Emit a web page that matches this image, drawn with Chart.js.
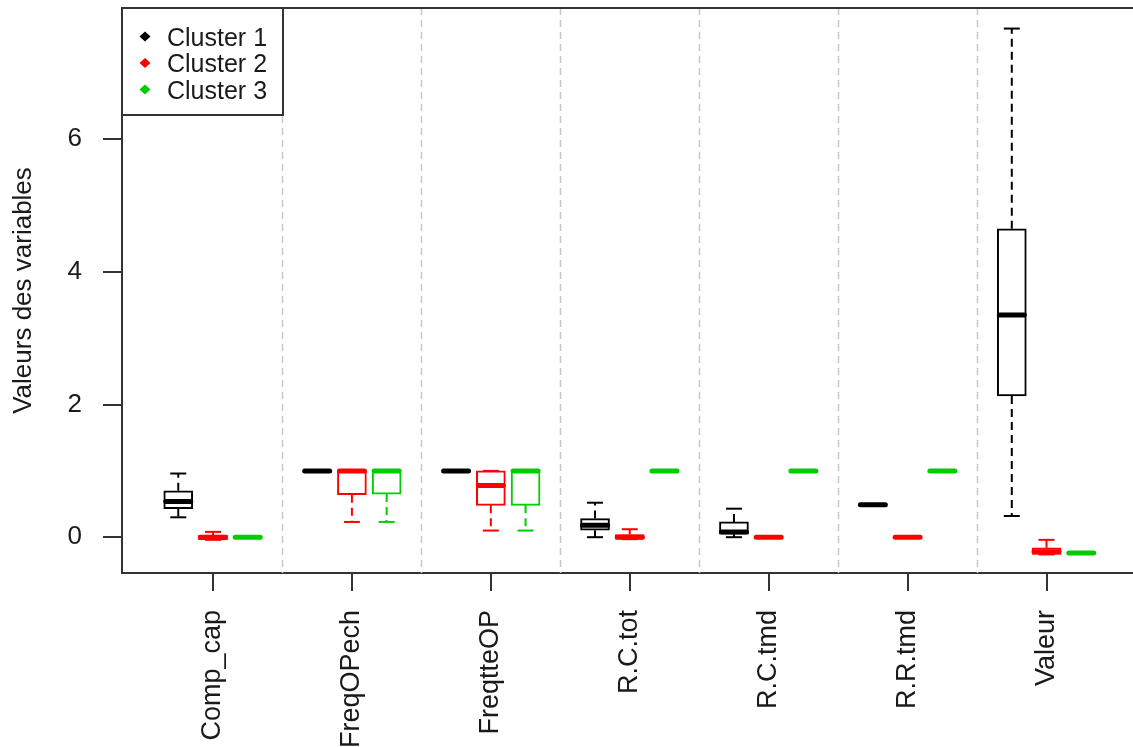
<!DOCTYPE html>
<html><head><meta charset="utf-8">
<script src="https://cdn.jsdelivr.net/npm/chart.js@4.4.1/dist/chart.umd.min.js"></script>
<style>html,body{margin:0;padding:0;background:#fff;}#wrap{width:1133px;height:747px;}</style>
</head><body><div id="wrap"><canvas id="c" width="1133" height="747"></canvas></div>
<script>
const categories = ['Comp_cap','FreqOPech','FreqtteOP','R.C.tot','R.C.tmd','R.R.tmd','Valeur'];
const clusterNames = ['Cluster 1','Cluster 2','Cluster 3'];
const clusterColors = ['#000000','#ff0000','#00cd00'];
// [lower whisker, Q1, median, Q3, upper whisker] per variable
const cluster1 = [[0.30,0.43,0.54,0.70,0.96],[1,1,1,1,1],[1,1,1,1,1],[0.00,0.105,0.18,0.28,0.52],[0.00,0.045,0.08,0.23,0.43],[0.49,0.49,0.49,0.49,0.49],[0.32,2.13,3.35,4.65,7.67]];
const cluster2 = [[-0.04,-0.04,0.00,0.03,0.08],[0.23,0.64,1,1,1],[0.10,0.48,0.78,1,1],[-0.03,-0.03,0.00,0.04,0.12],[0,0,0,0,0],[0,0,0,0,0],[-0.26,-0.26,-0.22,-0.16,-0.04]];
const cluster3 = [[0,0,0,0,0],[0.23,0.65,1,1,1],[0.10,0.48,1,1,1],[1,1,1,1,1],[1,1,1,1,1],[1,1,1,1,1],[-0.24,-0.24,-0.24,-0.24,-0.24]];
const yTicks = [0,2,4,6];

const clusters = [cluster1, cluster2, cluster3];
const pos = (g,k) => 4*g + k + 1;
const separators = categories.slice(1).map((c,i)=>4*(i+1));
const FONT = "'Liberation Sans', Arial, sans-serif";
const INK = '#1a1a1a';

const datasets = clusters.map((cl,k)=>({
  type:'bar',
  label: clusterNames[k],
  data: cl.map((s,g)=>({x: pos(g,k), y:[s[1], s[3]]})),
  backgroundColor:'#ffffff',
  borderColor: clusterColors[k],
  borderWidth: 2,
  borderSkipped: false,
  barThickness: 29,
  grouped: false
}));

const boxPlugin = {
  id:'boxDecor',
  beforeDatasetsDraw(chart){
    const {ctx, chartArea:a, scales:{x}} = chart;
    ctx.save();
    ctx.strokeStyle='#c8c8c8'; ctx.lineWidth=1.5; ctx.setLineDash([7,5]);
    separators.forEach(v=>{
      const px = Math.round(x.getPixelForValue(v))+0.5;
      ctx.beginPath(); ctx.moveTo(px,a.top); ctx.lineTo(px,a.bottom); ctx.stroke();
    });
    ctx.restore();
  },
  afterDatasetsDraw(chart){
    const {ctx, chartArea:a, scales:{x,y}} = chart;
    ctx.save();
    const half = 14.5, capHalf = 8;
    clusters.forEach((cl,k)=>{
      const col = clusterColors[k];
      cl.forEach((s,g)=>{
        const cx = x.getPixelForValue(pos(g,k));
        const pMin=y.getPixelForValue(s[0]), pQ1=y.getPixelForValue(s[1]), pMed=y.getPixelForValue(s[2]), pQ3=y.getPixelForValue(s[3]), pMax=y.getPixelForValue(s[4]);
        ctx.strokeStyle = col;
        ctx.lineWidth = 2; ctx.setLineDash([8,5]); ctx.lineCap='butt';
        if (s[4] > s[3]) { ctx.beginPath(); ctx.moveTo(cx,pQ3); ctx.lineTo(cx,pMax); ctx.stroke(); }
        if (s[0] < s[1]) { ctx.beginPath(); ctx.moveTo(cx,pQ1); ctx.lineTo(cx,pMin); ctx.stroke(); }
        ctx.setLineDash([]);
        ctx.beginPath(); ctx.moveTo(cx-capHalf,pMax); ctx.lineTo(cx+capHalf,pMax); ctx.stroke();
        ctx.beginPath(); ctx.moveTo(cx-capHalf,pMin); ctx.lineTo(cx+capHalf,pMin); ctx.stroke();
        ctx.lineWidth = 5; ctx.lineCap='round';
        ctx.beginPath(); ctx.moveTo(cx-half+2,pMed); ctx.lineTo(cx+half-2,pMed); ctx.stroke();
      });
    });
    ctx.lineCap='butt'; ctx.setLineDash([]);
    ctx.strokeStyle='#333'; ctx.lineWidth=2;
    ctx.beginPath(); ctx.moveTo(a.left,a.top); ctx.lineTo(a.right,a.top); ctx.stroke();
    const lx=a.left, ly=a.top, lw=161, lh=107;
    ctx.fillStyle='#fff'; ctx.fillRect(lx,ly,lw,lh);
    ctx.strokeRect(lx,ly,lw,lh);
    ctx.font = "25px " + FONT; ctx.textBaseline='middle'; ctx.textAlign='left';
    clusterNames.forEach((n,i)=>{
      const cy = ly + 29 + i*26.5;
      ctx.fillStyle = clusterColors[i];
      ctx.beginPath(); ctx.moveTo(lx+23,cy-5.5); ctx.lineTo(lx+28.5,cy-0.5); ctx.lineTo(lx+23,cy+4.5); ctx.lineTo(lx+17.5,cy-0.5); ctx.closePath(); ctx.fill();
      ctx.fillStyle = INK; ctx.fillText(n, lx+45, cy+2);
    });
    ctx.restore();
  }
};

new Chart(document.getElementById('c'), {
  type:'bar',
  data:{datasets},
  options:{
    responsive:false, animation:false,
    layout:{padding:{top:8,left:0,right:0,bottom:0}},
    plugins:{legend:{display:false}, tooltip:{enabled:false}},
    scales:{
      x:{type:'linear', min:-0.62, max:28.49, offset:false,
        afterBuildTicks:s=>{ s.ticks = categories.map((c,i)=>({value:4*i+2})); },
        afterFit:s=>{ s.height = 174; s.paddingLeft = 0; s.paddingRight = 0; },
        grid:{offset:false, drawOnChartArea:false, drawTicks:true, tickLength:18, color:'#333', lineWidth:2},
        border:{display:true, color:'#333', width:2},
        ticks:{autoSkip:false, minRotation:90, maxRotation:90, padding:19, color:INK,
          font:{family:FONT, size:27},
          callback:(v)=>categories[Math.round((v-2)/4)]}
      },
      y:{min:-0.54, max:7.98,
        afterBuildTicks:s=>{ s.ticks = yTicks.map(v=>({value:v})); },
        afterFit:s=>{ s.width = 122; s.paddingTop = 0; s.paddingBottom = 0; },
        grid:{drawOnChartArea:false, drawTicks:true, tickLength:19, color:'#333', lineWidth:2},
        border:{display:true, color:'#333', width:2},
        ticks:{padding:21, color:INK, font:{family:FONT, size:26}},
        title:{display:true, text:'Valeurs des variables', color:INK, font:{family:FONT, size:26}, padding:{top:8,bottom:0}}
      }
    }
  },
  plugins:[boxPlugin]
});
</script></body></html>
